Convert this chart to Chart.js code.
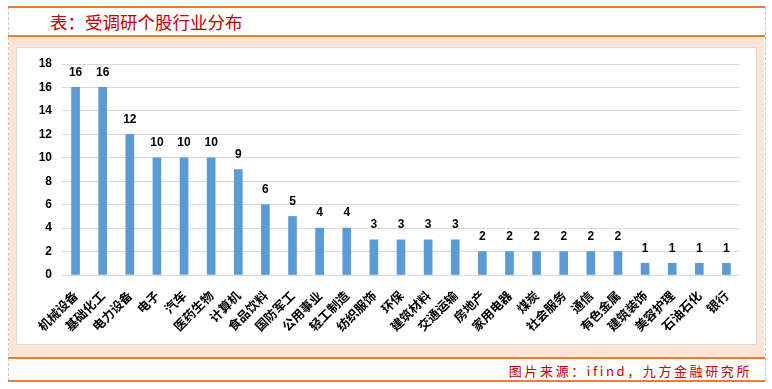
<!DOCTYPE html>
<html>
<head>
<meta charset="utf-8">
<script src="https://cdn.jsdelivr.net/npm/chart.js@4"></script>
<style>
  html, body { margin: 0; padding: 0; background: #fff; }
  #page { position: relative; width: 772px; height: 389px; overflow: hidden; font-family: "Noto Sans CJK SC", sans-serif; }
  .frame { position: absolute; left: 8px; top: 7px; width: 756px; height: 374px; border-left: 1px dashed #c8c8c8; border-right: 1px dashed #c8c8c8; }
  .hline { position: absolute; left: 8px; width: 757px; height: 2px; background: #ed7d31; }
  #title { position: absolute; left: 50px; top: 11px; font-size: 17.5px; color: #c00000; line-height: 22px; }
  #peach { position: absolute; left: 9px; top: 37px; width: 755px; height: 320px; background: #fce4d6; }
  #box { position: absolute; left: 16px; top: 47px; width: 739px; height: 296px; background: #fff; border: 1px solid #d9d9d9; }
  #source { position: absolute; right: 20px; top: 362px; font-size: 13px; color: #c00000; letter-spacing: 2.6px; line-height: 18px; }
  #c { position: absolute; left: 0; top: 0; }
</style>
</head>
<body>
<div id="page">
  <div class="frame"></div>
  <div class="hline" style="top:6px"></div>
  <div id="title">表：受调研个股行业分布</div>
  <div class="hline" style="top:35px"></div>
  <div id="peach"></div>
  <div id="box"></div>
  <div class="hline" style="top:357px"></div>
  <div id="source">图片来源：ifind，九方金融研究所</div>
  <div class="hline" style="top:380px"></div>
  <canvas id="c" width="772" height="389"></canvas>
</div>
<script>
; (function () {
    'use strict'

    // ── Data ──────────────────────────────────────────────────────────────────
    const industries = ['机械设备', '基础化工', '电力设备', '电子', '汽车', '医药生物', '计算机',
        '食品饮料', '国防军工', '公用事业', '轻工制造', '纺织服饰', '环保', '建筑材料', '交通运输',
        '房地产', '家用电器', '煤炭', '社会服务', '通信', '有色金属', '建筑装饰', '美容护理',
        '石油石化', '银行']
    const stockCounts = [16, 16, 12, 10, 10, 10, 9, 6, 5, 4, 4, 3, 3, 3, 3, 2, 2, 2, 2, 2, 2, 1, 1, 1, 1]
    const yTicks = [0, 2, 4, 6, 8, 10, 12, 14, 16, 18]

    // value labels above each bar
    const barLabels = {
        id: 'barLabels',
        afterDatasetsDraw(chart) {
            const ctx = chart.ctx
            const meta = chart.getDatasetMeta(0)
            ctx.save()
            ctx.font = 'bold 12px "Liberation Sans", "DejaVu Sans", sans-serif'
            ctx.fillStyle = '#000'
            ctx.textAlign = 'center'
            ctx.textBaseline = 'bottom'
            meta.data.forEach((bar, i) => {
                ctx.fillText(String(stockCounts[i]), bar.x, bar.y - 9)
            })
            ctx.restore()
        }
    }

    new Chart(document.getElementById('c'), {
        type: 'bar',
        data: {
            labels: industries,
            datasets: [{
                data: stockCounts,
                backgroundColor: '#5b9bd5',
                barThickness: 8
            }]
        },
        options: {
            responsive: false,
            animation: false,
            layout: { padding: { top: 64, right: 32, bottom: 40, left: 0 } },
            plugins: { legend: { display: false }, tooltip: { enabled: false } },
            scales: {
                x: {
                    grid: { display: false },
                    border: { display: false },
                    ticks: {
                        color: '#000',
                        minRotation: 45, maxRotation: 45,
                        autoSkip: false,
                        padding: 5,
                        font: { family: '"Noto Sans CJK SC", sans-serif', size: 12.5, weight: 'bold' }
                    },
                    afterFit: s => { s.height = 74 }
                },
                y: {
                    min: 0, max: 18,
                    afterBuildTicks: s => { s.ticks = yTicks.map(v => ({ value: v })) },
                    grid: { color: '#d9d9d9', drawTicks: false },
                    border: { display: false },
                    ticks: {
                        color: '#000',
                        padding: 10,
                        font: { family: '"Liberation Sans", "DejaVu Sans", sans-serif', size: 12, weight: 'bold' }
                    },
                    afterFit: s => { s.width = 62 }
                }
            }
        },
        plugins: [barLabels]
    })
})()
</script>
</body>
</html>
